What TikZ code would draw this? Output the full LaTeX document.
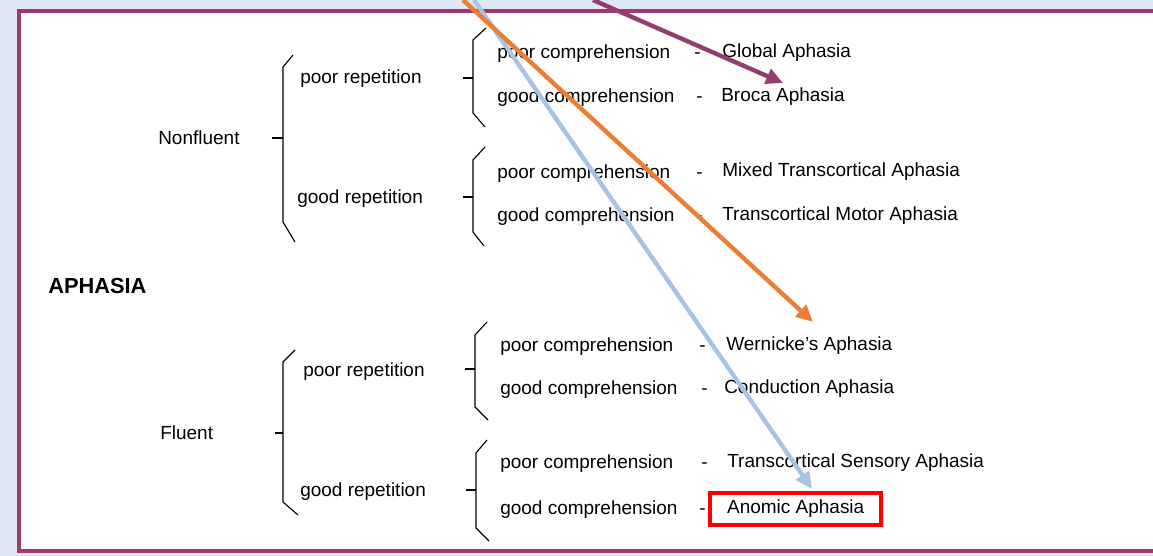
\documentclass[tikz,border=0pt]{standalone}
\usepackage{fontspec}
\setmainfont{Liberation Sans}
\usetikzlibrary{arrows.meta}
\definecolor{pagebg}{HTML}{DEE8F4}
\definecolor{framecol}{HTML}{9E3A6E}
\definecolor{plum}{HTML}{943C6E}
\definecolor{tangerine}{HTML}{ED7D31}
\definecolor{skyblue}{HTML}{A6C4E3}
\tikzset{
  lbl/.style={anchor=base west, inner sep=0pt, font=\fontsize{13.5}{16}\selectfont},
  brace/.style={line width=0.8pt},
  hint/.style={line width=3.1pt, -{Triangle[length=12pt,width=11pt]}},
}
\begin{document}
\begin{tikzpicture}[x=0.025cm, y=-0.025cm]
        \useasboundingbox (0,0) rectangle (1153,556);
        \fill[pagebg] (0,0) rectangle (1153,556);
        \fill[white] (19,11) rectangle (1153,551);
        \draw[framecol, line width=2.2pt] (1153,11) -- (19,11) -- (19,551) -- (1153,551);

        % left column
        \node[lbl, font=\fontsize{15.5}{18}\selectfont\bfseries] (aphasia) at (48,294) {APHASIA};
        \node[lbl] (nonfluent) at (158,145) {Nonfluent};
        \node[lbl] (fluent) at (160,440) {Fluent};

        \draw[brace] (293,55) -- (283,67) -- (283,222) -- (295,242);
        \draw[brace] (272,138) -- (283,138);
        \draw[brace] (295,350) -- (283,362) -- (283,502) -- (298,515);
        \draw[brace] (275,433) -- (283,433);

        % repetition
        \node[lbl] (nfpoor) at (300,84) {poor repetition};
        \node[lbl] (nfgood) at (297,204) {good repetition};
        \node[lbl] (flpoor) at (303,377) {poor repetition};
        \node[lbl] (flgood) at (300,497) {good repetition};

        \draw[brace] (486,28) -- (473,40) -- (473,113) -- (485,127);
        \draw[brace] (463,78) -- (473,78);
        \draw[brace] (485,147) -- (473,160) -- (473,232) -- (484,246);
        \draw[brace] (463,197) -- (473,197);
        \draw[brace] (487,322) -- (475,335) -- (475,407) -- (488,420);
        \draw[brace] (465,369) -- (475,369);
        \draw[brace] (487,440) -- (476,453) -- (476,528) -- (489,541);
        \draw[brace] (466,490) -- (476,490);

        % comprehension
        \node[lbl] (c1) at (497,59) {poor comprehension};
        \node[lbl] (c2) at (497,103) {good comprehension};
        \node[lbl] (c3) at (497,179) {poor comprehension};
        \node[lbl] (c4) at (497,222) {good comprehension};
        \node[lbl] (c5) at (500,352) {poor comprehension};
        \node[lbl] (c6) at (500,395) {good comprehension};
        \node[lbl] (c7) at (500,469) {poor comprehension};
        \node[lbl] (c8) at (500,515) {good comprehension};

        \node[lbl] (d1) at (694,59) {-};
        \node[lbl] (d2) at (696,103) {-};
        \node[lbl] (d3) at (696,179) {-};
        \node[lbl] (d4) at (696,222) {-};
        \node[lbl] (d5) at (699,352) {-};
        \node[lbl] (d6) at (701,395) {-};
        \node[lbl] (d7) at (701,469) {-};
        \node[lbl] (d8) at (699,515) {-};

        % aphasia types
        \node[lbl] (global) at (722,58) {Global Aphasia};
        \node[lbl] (broca) at (721,102) {Broca Aphasia};
        \node[lbl] (mixed) at (722,177) {Mixed Transcortical Aphasia};
        \node[lbl] (tcmotor) at (722,221) {Transcortical Motor Aphasia};
        \node[lbl] (wernicke) at (726,351) {Wernicke’s Aphasia};
        \node[lbl] (conduction) at (724,394) {Conduction Aphasia};
        \node[lbl] (tcsensory) at (727,468) {Transcortical Sensory Aphasia};
        \node[lbl, draw=red, line width=2.8pt, inner xsep=12.2pt, inner ysep=5.2pt] (anomic) at (708,514) {Anomic Aphasia};

        % highlight arrows
        \coordinate (plumtail) at (593,0);
        \coordinate (plumhead) at (783,83);
        \coordinate (orangetail) at (463,0);
        \coordinate (orangehead) at (813,322);
        \coordinate (bluetail) at (474,0);
        \coordinate (bluehead) at (812,489);

        \draw[hint, skyblue] (bluetail) -- (bluehead);
        \draw[hint, tangerine] (orangetail) -- (orangehead);
        \draw[hint, plum] (plumtail) -- (plumhead);
\end{tikzpicture}
\end{document}
